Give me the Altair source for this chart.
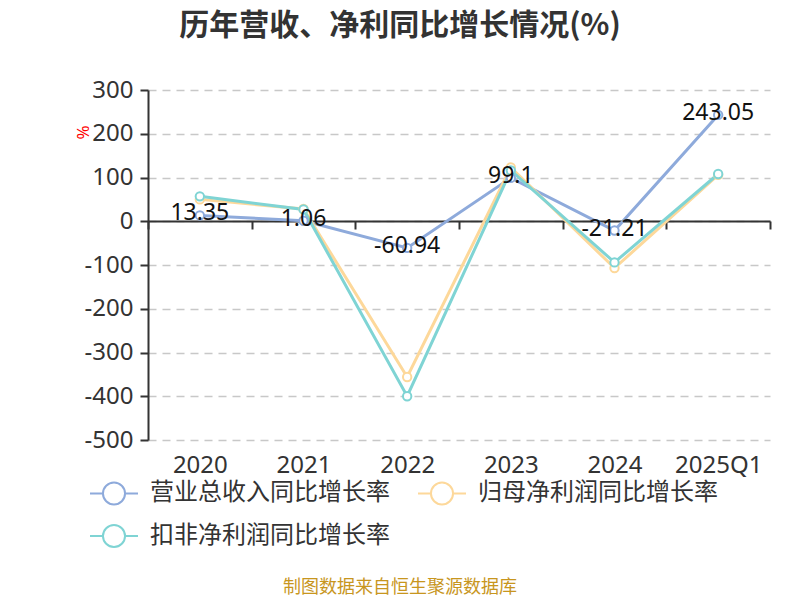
import altair as alt
import pandas as pd

years = ["2020", "2021", "2022", "2023", "2024", "2025Q1"]
series_names = ["营业总收入同比增长率", "归母净利润同比增长率", "扣非净利润同比增长率"]
revenue = [13.35, 1.06, -60.94, 99.1, -21.21, 243.05]
parent_profit = [50, 28, -356, 123, -107, 106]
deducted_profit = [57, 27, -400, 116, -94, 108]
colors = ["#8eaadb", "#fdd89a", "#7fd4d4"]
y_ticks = [300, 200, 100, 0, -100, -200, -300, -400, -500]

rows = []
for name, vals in zip(series_names, [revenue, parent_profit, deducted_profit]):
    for yr, v in zip(years, vals):
        rows.append({"year": yr, "series": name, "value": v, "label": str(v),
                     "order": series_names.index(name)})
df = pd.DataFrame(rows)
rev_df = df[df["series"] == series_names[0]]

cjk = "Noto Sans CJK SC"
num = "Noto Sans"

x = alt.X("year:N", sort=years, title=None,
          scale=alt.Scale(type="band", paddingInner=0, paddingOuter=0),
          axis=alt.Axis(offset=-219, labelAngle=0, labelFontSize=24, labelFont=num,
                        labelColor="#333333", labelPadding=224, tickBand="extent",
                        tickSize=8, tickWidth=2, tickColor="#333333",
                        domainColor="#333333", domainWidth=2, grid=False))
y = alt.Y("value:Q", title="%",
          scale=alt.Scale(domain=[-500, 300], nice=False, zero=False),
          axis=alt.Axis(values=y_ticks, labelFontSize=24, labelFont=num,
                        labelExpr="datum.value + ''", labelPadding=7,
                        labelColor="#333333", tickSize=8, tickWidth=2,
                        tickColor="#333333", domainColor="#333333", domainWidth=2,
                        gridDash=[8, 6], gridColor="#c8c8c8", gridWidth=1.5,
                        titleColor="red", titleFontSize=17, titleFont=num,
                        titleFontWeight="normal", titleX=-56, titleY=42,
                        titleAngle=270))

color = alt.Color("series:N", sort=series_names,
                  scale=alt.Scale(domain=series_names, range=colors),
                  legend=alt.Legend(title=None, orient="none", legendX=-47, legendY=390,
                                    direction="horizontal",
                                    columns=2, columnPadding=24, rowPadding=11,
                                    symbolType="M-2,0L-0.92,0M0.92,0L2,0M-0.92,0A0.92,0.92,0,1,1,0.92,0A0.92,0.92,0,1,1,-0.92,0",
                                    symbolSize=576, symbolStrokeWidth=2,
                                    symbolFillColor="white", labelOffset=23,
                                    labelFontSize=24, labelFont=cjk, labelColor="#333333",
                                    labelLimit=400, padding=0))

lines = alt.Chart(df).mark_line(strokeWidth=3).encode(
    x=x, y=y, color=color, order=alt.Order("order:Q"), detail="series:N"
)
points = alt.Chart(df).mark_point(filled=True, fill="white", size=70, strokeWidth=2,
                                   opacity=1).encode(
    x=x, y=y, stroke=alt.Stroke("series:N", scale=alt.Scale(domain=series_names, range=colors),
                                legend=None),
    order=alt.Order("order:Q")
)
labels = alt.Chart(rev_df).mark_text(fontSize=23, font=num, color="#111111", dy=-2).encode(
    x=x, y=y, text="label:N"
)
source = alt.Chart(pd.DataFrame({"t": ["制图数据来自恒生聚源数据库"]})).mark_text(
    fontSize=18, font=cjk, color="#c8961e"
).encode(x=alt.value(252), y=alt.value(498), text="t:N")

chart = alt.layer(lines, points, labels, source).properties(
    width=622, height=350,
    autosize=alt.AutoSizeParams(type="none"),
    padding={"left": 140, "top": 82, "right": 22, "bottom": 160},
    title=alt.TitleParams("历年营收、净利同比增长情况(%)", fontSize=30, font=cjk,
                          fontWeight="bold", color="#333333", anchor="middle",
                          dx=-59, offset=37),
).configure_view(stroke=None)

chart.save("out.html", embed_options={"renderer": "svg", "actions": False})
